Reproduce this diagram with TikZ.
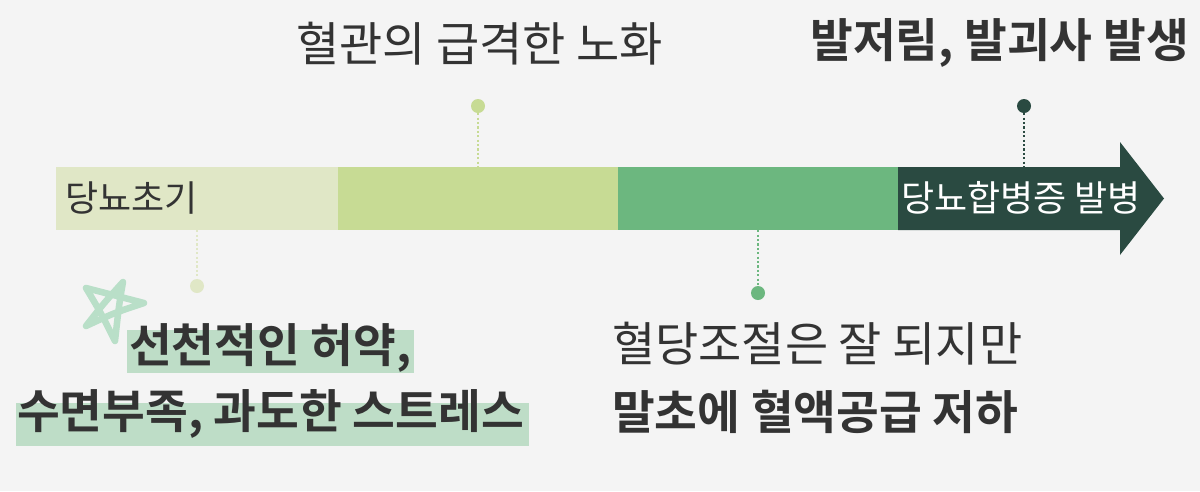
\documentclass[tikz,border=0pt]{standalone}
\usepackage{fontspec}
\newfontfamily\kr{Noto Sans CJK KR}[BoldFont={Noto Sans CJK KR Bold}]
\definecolor{bgc}{HTML}{F4F4F4}
\definecolor{cone}{HTML}{E0E7C6}
\definecolor{ctwo}{HTML}{C7DB94}
\definecolor{cthree}{HTML}{6CB77F}
\definecolor{cfour}{HTML}{2A4A41}
\definecolor{hl}{HTML}{BEDDC7}
\definecolor{starc}{HTML}{B9DFC8}
\definecolor{txt}{HTML}{333333}
\tikzset{
  seg/.style={draw=none, inner sep=0, minimum height=63pt},
  dotc/.style={circle, inner sep=0, minimum size=14pt, draw=none},
  dotline/.style={line width=2.2pt, dash pattern=on 2.2pt off 2.2pt},
  big/.style={font=\kr\fontsize{47}{54}\selectfont, text=txt, inner sep=0},
  bigb/.style={font=\kr\bfseries\fontsize{46.5}{54}\selectfont, text=txt, inner sep=0},
  small/.style={font=\kr\fontsize{36}{42}\selectfont, inner sep=0},
  hlbox/.style={fill=hl, draw=none}
}
\begin{document}
\begin{tikzpicture}[x=1pt, y=-1pt]
\fill[bgc] (0,0) rectangle (1200,491);
\useasboundingbox (0,0) rectangle (1200,491);
% bar
\node[seg, fill=cone, minimum width=282pt] (s1) at (197,198.5) {};
\node[seg, fill=ctwo, minimum width=281pt] (s2) at (478,198.5) {};
\node[seg, fill=cthree, minimum width=281pt] (s3) at (758.5,198.5) {};
\fill[cfour] (898,167) -- (1120,167) -- (1120,142) -- (1164,198.5) -- (1120,255) -- (1120,230) -- (898,230) -- cycle;
\coordinate (s4n) at (1024,167);
% labels in bar
\node[small, text=txt, anchor=west] (l1) at (65,198) {당뇨초기};
\node[small, text=white, anchor=west] (l4) at (901,198) {당뇨합병증 발병};
% dots and connectors
\node[dotc, fill=cone] (d1) at (197,286) {};
\node[dotc, fill=ctwo] (d2) at (478,106) {};
\node[dotc, fill=cthree] (d3) at (758,293) {};
\node[dotc, fill=cfour] (d4) at (1024,106) {};
\draw[dotline, cone] (s1.south) -- (d1);
\draw[dotline, ctwo] (d2) -- (s2.north);
\draw[dotline, cthree] (s3.south -| d3) -- (d3);
\draw[dotline, cfour] (d4) -- (s4n);
% top texts
\node[big, anchor=west] (t2) at (296,44) {혈관의 급격한 노화};
\node[bigb, anchor=east] (t4) at (1189,43) {발저림, 발괴사 발생};
% star
\draw[starc, line width=6.5pt, line cap=round, line join=round]
  (123,282) .. controls (119,305) .. (115,341)
  .. controls (101,313) .. (86,288)
  .. controls (115,295) .. (144,303)
  .. controls (114,313) .. (86,326)
  .. controls (104,303) .. (123,282);
% bottom-left highlights
\fill[hl] (127,330) rectangle (414,373);
\fill[hl] (16,403) rectangle (529,446);
\node[bigb, anchor=west] (b1) at (129,348) {선천적인 허약,};
\node[bigb, anchor=west] (b2) at (17,414) {수면부족, 과도한 스트레스};
% bottom-right texts
\node[big, anchor=west] (r1) at (612,344) {혈당조절은 잘 되지만};
\node[bigb, anchor=west] (r2) at (612,412) {말초에 혈액공급 저하};
\end{tikzpicture}
\end{document}
